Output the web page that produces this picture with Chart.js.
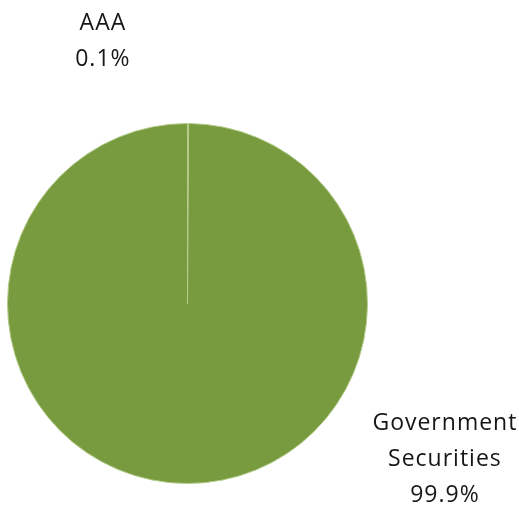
<!DOCTYPE html>
<html>
<head>
<meta charset="utf-8">
<script src="https://cdn.jsdelivr.net/npm/chart.js@4"></script>
<style>
  html, body { margin: 0; padding: 0; background: #fff; }
  #wrap { width: 519px; height: 505px; position: relative; }
</style>
</head>
<body>
<div id="wrap"><canvas id="ratingPie"></canvas></div>
<script>
// data
const categories = ['AAA', 'Government Securities'];
const shares = [0.1, 99.9];
const labelLines = [['AAA', '0.1%'], ['Government', 'Securities', '99.9%']];
const sliceColors = ['#9ab864', '#789b3f'];

// label placement relative to pie centre (in radii units)
const labelOffsets = [{ dx: -0.47, dy: -1.52 }, { dx: 1.43, dy: 0.7 }];

const calloutLabels = {
  id: 'calloutLabels',
  afterDraw(chart) {
    const ctx = chart.ctx;
    const meta = chart.getDatasetMeta(0);
    const arc = meta.data[0];
    const cx = arc.x, cy = arc.y, r = arc.outerRadius;
    ctx.save();
    ctx.fillStyle = '#161616';
    ctx.font = '23px "Open Sans"';
    ctx.letterSpacing = '1px';
    ctx.textAlign = 'center';
    ctx.textBaseline = 'alphabetic';
    labelLines.forEach((lines, i) => {
      const x = cx + labelOffsets[i].dx * r;
      const y = cy + labelOffsets[i].dy * r;
      lines.forEach((t, k) => ctx.fillText(t, x, y + k * 36));
    });
    ctx.restore();
  }
};

new Chart(document.getElementById('ratingPie'), {
  type: 'pie',
  data: {
    labels: categories,
    datasets: [{
      data: shares,
      backgroundColor: sliceColors,
      borderColor: '#b5cc8c',
      borderWidth: 1
    }]
  },
  options: {
    responsive: true,
    maintainAspectRatio: false,
    animation: false,
    layout: { padding: { left: 7, right: 151, top: 123, bottom: 21 } },
    plugins: {
      legend: { display: false },
      tooltip: { enabled: false }
    }
  },
  plugins: [calloutLabels]
});
</script>
</body>
</html>
